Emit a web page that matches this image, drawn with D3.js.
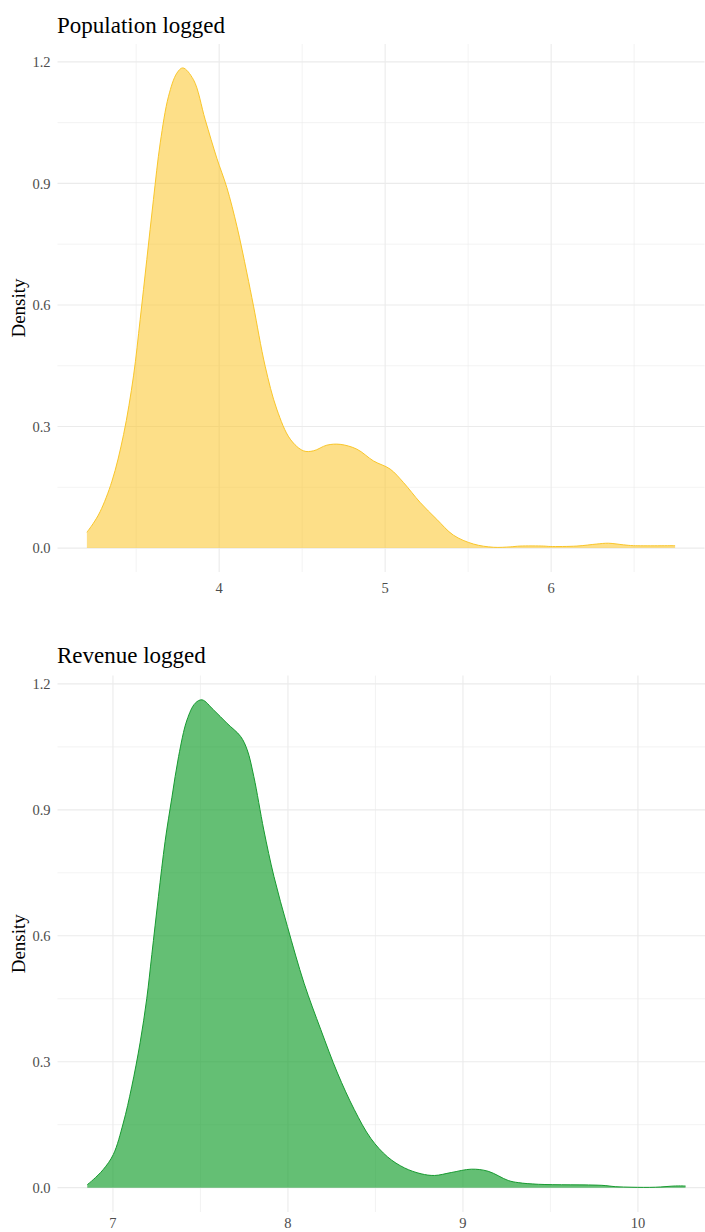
<!DOCTYPE html>
<html>
<head>
<meta charset="utf-8">
<script src="https://cdn.jsdelivr.net/npm/d3@7"></script>
<style>
  html, body { margin: 0; padding: 0; background: #ffffff; }
  svg { display: block; }
</style>
</head>
<body>
<svg id="chart" width="705" height="1232"></svg>
<script>
// Kernel density estimate of log10 population
const popX = [3.203, 3.24, 3.283, 3.354, 3.424, 3.484, 3.524, 3.564, 3.604, 3.645, 3.695, 3.745, 3.781,
  3.845, 3.916, 3.986, 4.046, 4.107, 4.167, 4.207, 4.277, 4.347, 4.428, 4.508, 4.568, 4.649, 4.729,
  4.83, 4.93, 5.03, 5.11, 5.21, 5.311, 5.411, 5.532, 5.653, 5.753, 5.813, 5.954, 5.994, 6.155, 6.275,
  6.345, 6.436, 6.496, 6.747];
const popDensity = [0.039, 0.060, 0.090, 0.165, 0.280, 0.425, 0.564, 0.712, 0.860, 1.000, 1.115, 1.172, 1.185,
  1.156, 1.057, 0.962, 0.890, 0.794, 0.679, 0.597, 0.449, 0.343, 0.269, 0.240, 0.240, 0.254, 0.256,
  0.244, 0.215, 0.195, 0.162, 0.113, 0.071, 0.032, 0.010, 0.002, 0.003, 0.005, 0.005, 0.004, 0.005, 0.010,
  0.012, 0.008, 0.006, 0.006];

// Kernel density estimate of log10 revenue
const revX = [6.853, 6.887, 6.944, 7.002, 7.059, 7.107, 7.155, 7.193, 7.222, 7.26, 7.298, 7.337, 7.375,
  7.423, 7.470, 7.509, 7.575, 7.652, 7.729, 7.767, 7.805, 7.862, 7.92, 7.997, 8.092, 8.188, 8.283,
  8.379, 8.474, 8.570, 8.666, 8.761, 8.838, 8.933, 9.048, 9.144, 9.259, 9.316, 9.431, 9.794, 9.870,
  9.966, 10.1, 10.215, 10.272];
const revDensity = [0.007, 0.019, 0.043, 0.079, 0.154, 0.240, 0.345, 0.450, 0.555, 0.694, 0.825, 0.930, 1.027,
  1.114, 1.154, 1.162, 1.138, 1.106, 1.075, 1.043, 0.979, 0.852, 0.741, 0.622, 0.487, 0.376, 0.273,
  0.186, 0.117, 0.073, 0.047, 0.033, 0.029, 0.036, 0.044, 0.039, 0.017, 0.012, 0.008, 0.0055, 0.0024,
  0.001, 0.001, 0.004, 0.004];

const yTicks = [0.0, 0.3, 0.6, 0.9, 1.2];
const yMinor = [0.15, 0.45, 0.75, 1.05];
const popTicks = [4, 5, 6];
const popMinor = [3.5, 4.5, 5.5, 6.5];
const revTicks = [7, 8, 9, 10];
const revMinor = [7.5, 8.5, 9.5];

const panels = [
  {
    title: "Population logged", xs: popX, ds: popDensity,
    xDomain: [3.026, 6.924], yDomain: [-0.059, 1.244],
    left: 57.5, right: 704.5, top: 44, bottom: 572,
    titleY: 33, xLabelY: 593,
    ticks: popTicks, minor: popMinor,
    fill: "#fbc527", fillOpacity: 0.55, stroke: "#f9c62a"
  },
  {
    title: "Revenue logged", xs: revX, ds: revDensity,
    xDomain: [6.683, 10.429], yDomain: [-0.058, 1.22],
    left: 57.5, right: 713, top: 675.5, bottom: 1212,
    titleY: 663, xLabelY: 1228,
    ticks: revTicks, minor: revMinor,
    fill: "#119d29", fillOpacity: 0.65, stroke: "#179a30"
  }
];

const svg = d3.select("#chart");
const font = "'Liberation Serif', 'Times New Roman', serif";

panels.forEach(p => {
  const x = d3.scaleLinear().domain(p.xDomain).range([p.left, p.right]);
  const y = d3.scaleLinear().domain(p.yDomain).range([p.bottom, p.top]);
  const g = svg.append("g");
  const clipW = Math.min(p.right, 705) - p.left;

  // minor grid
  g.append("g").selectAll("line").data(yMinor).join("line")
    .attr("x1", p.left).attr("x2", p.left + clipW)
    .attr("y1", d => y(d)).attr("y2", d => y(d))
    .attr("stroke", "#ebebeb").attr("stroke-width", 0.6);
  g.append("g").selectAll("line").data(p.minor).join("line")
    .attr("x1", d => x(d)).attr("x2", d => x(d))
    .attr("y1", p.top).attr("y2", p.bottom)
    .attr("stroke", "#ebebeb").attr("stroke-width", 0.6);

  // major grid
  g.append("g").selectAll("line").data(yTicks).join("line")
    .attr("x1", p.left).attr("x2", p.left + clipW)
    .attr("y1", d => y(d)).attr("y2", d => y(d))
    .attr("stroke", "#ebebeb").attr("stroke-width", 1.1);
  g.append("g").selectAll("line").data(p.ticks).join("line")
    .attr("x1", d => x(d)).attr("x2", d => x(d))
    .attr("y1", p.top).attr("y2", p.bottom)
    .attr("stroke", "#ebebeb").attr("stroke-width", 1.1);

  const pts = p.xs.map((v, i) => [v, p.ds[i]]);
  const curve = d3.curveCatmullRom.alpha(0.5);

  const area = d3.area()
    .x(d => x(d[0])).y0(y(0)).y1(d => y(d[1]))
    .curve(curve);
  const line = d3.line()
    .x(d => x(d[0])).y(d => y(d[1]))
    .curve(curve);

  g.append("path").datum(pts).attr("d", area)
    .attr("fill", p.fill).attr("fill-opacity", p.fillOpacity).attr("stroke", "none");
  g.append("path").datum(pts).attr("d", line)
    .attr("fill", "none").attr("stroke", p.stroke).attr("stroke-width", 1);

  // y tick labels
  const yAxis = d3.axisLeft(y).tickValues(yTicks).tickFormat(d3.format(".1f")).tickSize(0).tickPadding(7);
  const ya = g.append("g").attr("transform", `translate(${p.left},0)`).call(yAxis);
  ya.select(".domain").remove();
  ya.selectAll("text").attr("font-family", font).attr("font-size", 14.5).attr("fill", "#4d4d4d");

  // x tick labels
  g.append("g").selectAll("text").data(p.ticks).join("text")
    .attr("x", d => x(d)).attr("y", p.xLabelY)
    .attr("text-anchor", "middle")
    .attr("font-family", font).attr("font-size", 14.5).attr("fill", "#4d4d4d")
    .text(d => d);

  // axis title
  g.append("text")
    .attr("transform", `translate(25,${(p.top + p.bottom) / 2}) rotate(-90)`)
    .attr("text-anchor", "middle")
    .attr("font-family", font).attr("font-size", 19).attr("fill", "#000")
    .text("Density");

  // panel title
  g.append("text")
    .attr("x", 57).attr("y", p.titleY)
    .attr("font-family", font).attr("font-size", 23).attr("fill", "#000")
    .text(p.title);
});
</script>
</body>
</html>
